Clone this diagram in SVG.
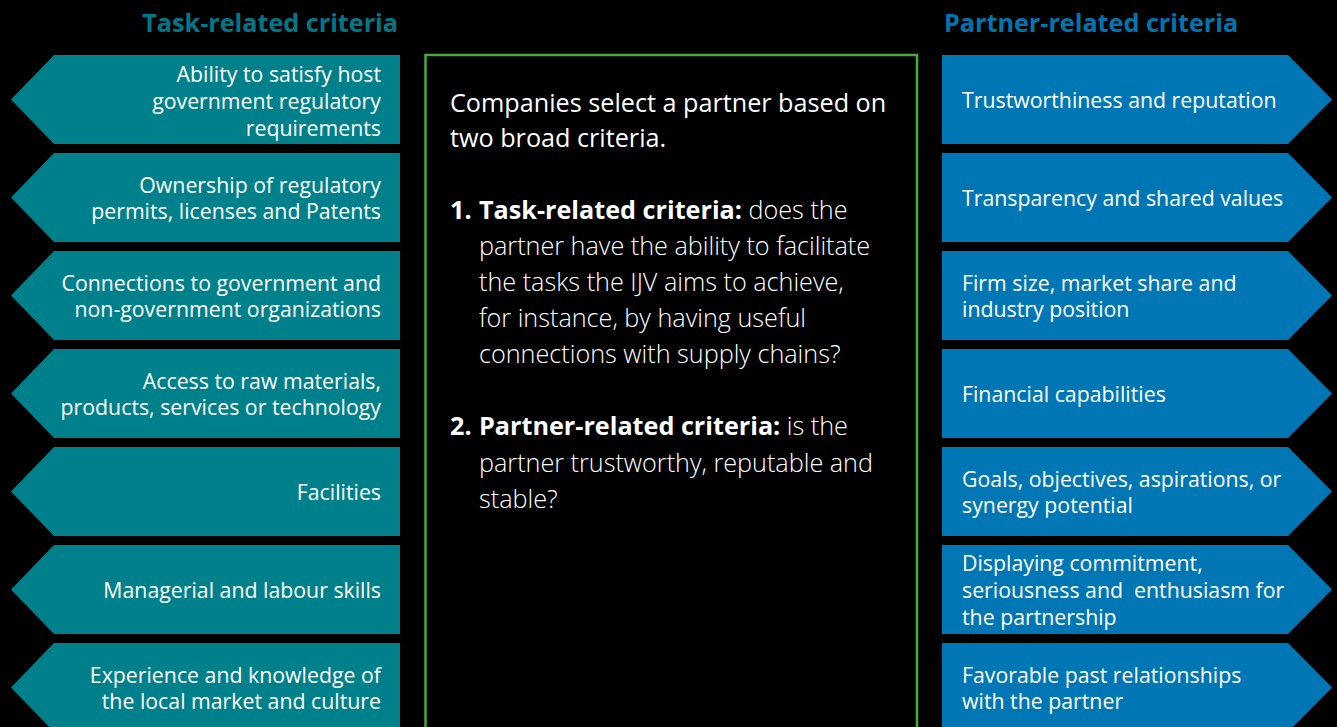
<svg xmlns="http://www.w3.org/2000/svg" width="1337" height="727" viewBox="0 0 1337 727">
<style>
text{font-family:"Open Sans","Liberation Sans",sans-serif}
.h{font-size:25.2px;font-weight:700}
.ht{fill:#00788a}
.hp{fill:#0076b1}
.la{fill:#00808a}
.ra{fill:#0077b4}
.lt{font-size:21.3px;fill:#ffffff;text-anchor:end}
.rt{font-size:21.3px;fill:#ffffff}
.c{font-size:25.2px;fill:#ffffff}
.cl{font-weight:300}
.b{font-weight:700}
</style>
<rect x="0" y="0" width="1337" height="727" fill="#000000"/>
<text class="h ht" x="398" y="32" text-anchor="end">Task-related criteria</text>
<text class="h hp" x="944" y="32">Partner-related criteria</text>

<g id="center">
<rect x="425.5" y="55" width="491.5" height="690" fill="none" stroke="#4aa93a" stroke-width="2.5"/>
<text class="c" x="450" y="112">Companies select a partner based on</text>
<text class="c" x="450" y="147">two broad criteria.</text>
<text class="c" x="450" y="219"><tspan class="b">1.</tspan><tspan class="b" x="479">Task-related criteria:</tspan><tspan class="cl"> does the</tspan></text>
<text class="c cl" x="479" y="255">partner have the ability to facilitate</text>
<text class="c cl" x="479" y="291">the tasks the IJV aims to achieve,</text>
<text class="c cl" x="479" y="327">for instance, by having useful</text>
<text class="c cl" x="479" y="363">connections with supply chains?</text>
<text class="c" x="450" y="435"><tspan class="b">2.</tspan><tspan class="b" x="479">Partner-related criteria:</tspan><tspan class="cl"> is the</tspan></text>
<text class="c cl" x="479" y="472">partner trustworthy, reputable and</text>
<text class="c cl" x="479" y="508">stable?</text>
</g>

<g id="task1"><path class="la" d="M400,55 H54 L11,99.5 L54,144 H400 Z"/>
<text class="lt" x="381" y="82">Ability to satisfy host</text>
<text class="lt" x="381" y="109">government regulatory</text>
<text class="lt" x="381" y="136">requirements</text></g>
<g id="task2"><path class="la" d="M400,153 H54 L11,197.5 L54,242 H400 Z"/>
<text class="lt" x="381" y="193">Ownership of regulatory</text>
<text class="lt" x="381" y="219">permits, licenses and Patents</text></g>
<g id="task3"><path class="la" d="M400,251 H54 L11,295.5 L54,340 H400 Z"/>
<text class="lt" x="381" y="291">Connections to government and</text>
<text class="lt" x="381" y="317">non-government organizations</text></g>
<g id="task4"><path class="la" d="M400,349 H54 L11,393.5 L54,438 H400 Z"/>
<text class="lt" x="381" y="389">Access to raw materials,</text>
<text class="lt" x="381" y="415">products, services or technology</text></g>
<g id="task5"><path class="la" d="M400,447 H54 L11,491.5 L54,536 H400 Z"/>
<text class="lt" x="381" y="500">Facilities</text></g>
<g id="task6"><path class="la" d="M400,545 H54 L11,589.5 L54,634 H400 Z"/>
<text class="lt" x="381" y="598">Managerial and labour skills</text></g>
<g id="task7"><path class="la" d="M400,643 H54 L11,687.5 L54,732 H400 Z"/>
<text class="lt" x="381" y="683">Experience and knowledge of</text>
<text class="lt" x="381" y="709">the local market and culture</text></g>

<g id="partner1"><path class="ra" d="M942,55 H1288 L1332,99.5 L1288,144 H942 Z"/>
<text class="rt" x="962" y="108">Trustworthiness and reputation</text></g>
<g id="partner2"><path class="ra" d="M942,153 H1288 L1332,197.5 L1288,242 H942 Z"/>
<text class="rt" x="962" y="206">Transparency and shared values</text></g>
<g id="partner3"><path class="ra" d="M942,251 H1288 L1332,295.5 L1288,340 H942 Z"/>
<text class="rt" x="962" y="291">Firm size, market share and</text>
<text class="rt" x="962" y="317">industry position</text></g>
<g id="partner4"><path class="ra" d="M942,349 H1288 L1332,393.5 L1288,438 H942 Z"/>
<text class="rt" x="962" y="402">Financial capabilities</text></g>
<g id="partner5"><path class="ra" d="M942,447 H1288 L1332,491.5 L1288,536 H942 Z"/>
<text class="rt" x="962" y="487">Goals, objectives, aspirations, or</text>
<text class="rt" x="962" y="513">synergy potential</text></g>
<g id="partner6"><path class="ra" d="M942,545 H1288 L1332,589.5 L1288,634 H942 Z"/>
<text class="rt" x="962" y="571">Displaying commitment,</text>
<text class="rt" x="962" y="598" xml:space="preserve">seriousness and  enthusiasm for</text>
<text class="rt" x="962" y="625">the partnership</text></g>
<g id="partner7"><path class="ra" d="M942,643 H1288 L1332,687.5 L1288,732 H942 Z"/>
<text class="rt" x="962" y="683">Favorable past relationships</text>
<text class="rt" x="962" y="709">with the partner</text></g>

<g id="connectors"></g>
</svg>
